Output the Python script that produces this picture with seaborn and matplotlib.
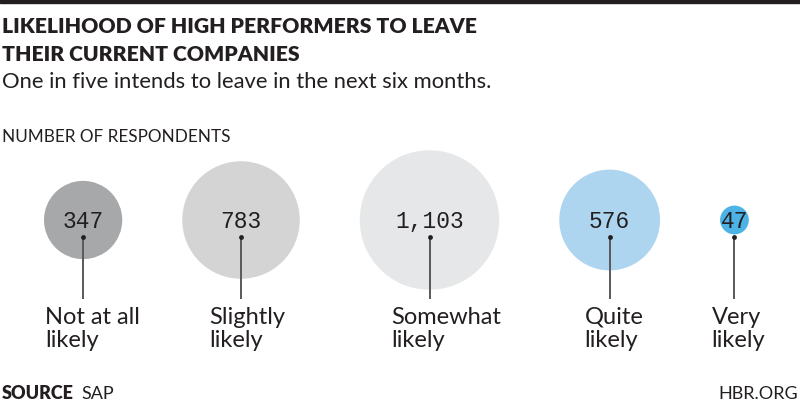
import numpy as np
import pandas as pd
import matplotlib.pyplot as plt
import seaborn as sns

# data
categories = ["Not at all\nlikely", "Slightly\nlikely", "Somewhat\nlikely", "Quite\nlikely", "Very\nlikely"]
respondents = [347, 783, 1103, 576, 47]
value_labels = ["347", "783", "1,103", "576", "47"]
colors = ["#a7a8aa", "#d4d4d5", "#e6e7e8", "#aed5f0", "#4db3e6"]

sns.set_theme(style="white")
plt.rcParams['font.family'] = ['Lato', 'DejaVu Sans']

DPI = 100
W, H = 800, 406
fig = plt.figure(figsize=(W / DPI, H / DPI), dpi=DPI)
ax = fig.add_axes([0, 0, 1, 1])
ax.set_xlim(0, W)
ax.set_ylim(H, 0)
ax.axis('off')

# circle area proportional to the count, radius in pixels
k = 2.1
radii = k * np.sqrt(np.array(respondents, dtype=float))
gap = 60
x0 = 44
centers = []
edge = x0
for r in radii:
    centers.append(edge + r)
    edge = edge + 2 * r + gap
cy = 221

df = pd.DataFrame({
    "x": centers,
    "y": [cy] * len(centers),
    "cat": categories,
    "n": respondents,
})

# scatter size is area in pt^2: diameter px -> pt
px2pt = 72 / DPI
size_k = (2 * k * px2pt) ** 2  # s = size_k * n
sns.scatterplot(data=df, x="x", y="y", hue="cat", palette=colors, size="n",
                sizes=(size_k * min(respondents), size_k * max(respondents)),
                size_norm=(min(respondents), max(respondents)),
                linewidth=0, legend=False, ax=ax, zorder=1)

ink = "#231f20"
dot_y = cy + 17
line_end = 300
ax.vlines(df["x"], dot_y, line_end, color="#58595b", lw=1.4, zorder=2)
ax.scatter(df["x"], [dot_y] * len(df), s=12, color=ink, zorder=3, linewidth=0)

for x, lab in zip(df["x"], value_labels):
    ax.text(x, cy + 1, lab, ha="center", va="center", fontsize=16.5,
            family=["Liberation Mono", "DejaVu Sans Mono"], color=ink, zorder=4)

# category labels, one text per line
label_off = [-38, -32, -38, -25, -23]
for x, off, cat in zip(df["x"], label_off, categories):
    for i, line in enumerate(cat.split("\n")):
        ax.text(x + off, 324 + 23 * i, line, ha="left", va="baseline",
                fontsize=17, color=ink)

# header
fig.patches.append(plt.Rectangle((0, 1 - 4 / H), 1, 4 / H, transform=fig.transFigure,
                                 color=ink, zorder=5))
title_lines = ["LIKELIHOOD OF HIGH PERFORMERS TO LEAVE", "THEIR CURRENT COMPANIES"]
for i, line in enumerate(title_lines):
    fig.text(2 / W, 1 - (33 + 28 * i) / H, line, ha="left", va="baseline",
             fontsize=15.2, fontweight="heavy", color=ink)
fig.text(2 / W, 1 - 88 / H, "One in five intends to leave in the next six months.",
         ha="left", va="baseline", fontsize=15.8, color=ink)
fig.text(2 / W, 1 - 142 / H, "NUMBER OF RESPONDENTS",
         ha="left", va="baseline", fontsize=12.3, color=ink)

# footer
fig.text(2 / W, 1 - 399 / H, "SOURCE", ha="left", va="baseline", fontsize=13,
         fontweight="heavy", color=ink)
fig.text(81 / W, 1 - 399 / H, "SAP", ha="left", va="baseline", fontsize=13, color=ink)
fig.text(798 / W, 1 - 399 / H, "HBR.ORG", ha="right", va="baseline", fontsize=13,
         color=ink)

fig.savefig("out.png", dpi=DPI)
